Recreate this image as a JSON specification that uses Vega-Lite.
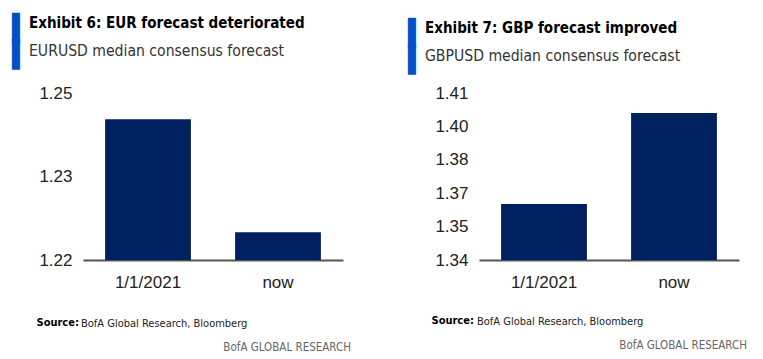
{
  "$schema": "https://vega.github.io/schema/vega-lite/v6.json",
  "background": "white",
  "padding": {"left": 12, "top": 15, "right": 5, "bottom": 0},
  "config": {"view": {"stroke": null}},
  "spacing": 57,
  "hconcat": [
    {
      "title": {"text": ["▌", "▌"], "orient": "left", "anchor": "end", "frame": "bounds", "angle": 0, "align": "left", "baseline": "top", "lineHeight": 26.5, "dy": 0, "font": "DejaVu Sans Mono", "fontSize": 26, "fontWeight": "normal", "color": "#0050C8", "offset": 1.3},
      "vconcat": [
        {
          "title": {"text": "Exhibit 6: EUR forecast deteriorated", "subtitle": "EURUSD median consensus forecast", "orient": "top", "anchor": "start", "frame": "bounds", "dx": -7, "font": "DejaVu Sans Condensed, Roboto, sans-serif", "fontSize": 15, "fontWeight": "bold", "color": "#000000", "subtitleFont": "DejaVu Sans Condensed, Roboto, sans-serif", "subtitleFontSize": 15.6, "subtitleColor": "#333333", "subtitlePadding": 13.5, "offset": 24},
          "vconcat": [
            {
              "title": {"text": "BofA GLOBAL RESEARCH", "orient": "bottom", "anchor": "end", "frame": "bounds", "dx": 8, "font": "DejaVu Sans Condensed, Roboto, sans-serif", "fontSize": 11.5, "fontWeight": "normal", "color": "#666666", "offset": 13},
              "vconcat": [
                {
                  "width": 260,
                  "height": 167,
                  "title": {"text": "BofA Global Research, Bloomberg", "orient": "bottom", "anchor": "start", "frame": "bounds", "dx": 45, "offset": -9, "font": "DejaVu Sans Condensed, Roboto, sans-serif", "fontSize": 11, "fontWeight": "normal", "color": "#222222"},
                  "data": {"values": [
                    {"date": "1/1/2021", "value": 1.2453},
                    {"date": "now", "value": 1.225}
                  ]},
                  "mark": {"type": "bar", "color": "#002060", "clip": true},
                  "encoding": {
                    "x": {"field": "date", "type": "nominal", "sort": null,
                      "scale": {"paddingInner": 0.34, "paddingOuter": 0.17},
                      "axis": {"title": "Source:", "titleFont": "DejaVu Sans Condensed, Roboto, sans-serif", "titleFontSize": 11, "titleFontWeight": "bold", "titleColor": "#000000", "titleX": -47, "titleY": 65, "titleAlign": "left", "titleBaseline": "alphabetic",
                        "labelAngle": 0, "labelFont": "Liberation Sans", "labelFontSize": 17, "labelColor": "#222222", "labelPadding": 14, "ticks": false, "domainColor": "#555555", "domainWidth": 2}},
                    "y": {"field": "value", "type": "quantitative",
                      "scale": {"domain": [1.22, 1.25], "zero": false, "nice": false},
                      "axis": {"title": null, "values": [1.22, 1.235, 1.25], "labelExpr": "format(ceil(datum.value*100-0.500001)/100,'.2f')", "labelFont": "Liberation Sans", "labelFontSize": 17, "labelColor": "#222222", "labelPadding": 11, "ticks": false, "domain": false, "grid": false}}
                  }
                }
              ]
            }
          ]
        }
      ]
    },
    {
      "title": {"text": ["▌", "▌"], "orient": "left", "anchor": "end", "frame": "bounds", "angle": 0, "align": "left", "baseline": "top", "lineHeight": 26.5, "dy": 0, "font": "DejaVu Sans Mono", "fontSize": 26, "fontWeight": "normal", "color": "#0050C8", "offset": 1.3},
      "vconcat": [
        {
          "title": {"text": "Exhibit 7: GBP forecast improved", "subtitle": "GBPUSD median consensus forecast", "orient": "top", "anchor": "start", "frame": "bounds", "dx": -6, "font": "DejaVu Sans Condensed, Roboto, sans-serif", "fontSize": 15, "fontWeight": "bold", "color": "#000000", "subtitleFont": "DejaVu Sans Condensed, Roboto, sans-serif", "subtitleFontSize": 15.6, "subtitleColor": "#333333", "subtitlePadding": 13.5, "offset": 19},
          "vconcat": [
            {
              "title": {"text": "BofA GLOBAL RESEARCH", "orient": "bottom", "anchor": "end", "frame": "bounds", "dx": 8, "font": "DejaVu Sans Condensed, Roboto, sans-serif", "fontSize": 11.5, "fontWeight": "normal", "color": "#666666", "offset": 13},
              "vconcat": [
                {
                  "width": 260,
                  "height": 167,
                  "title": {"text": "BofA Global Research, Bloomberg", "orient": "bottom", "anchor": "start", "frame": "bounds", "dx": 46, "offset": -9, "font": "DejaVu Sans Condensed, Roboto, sans-serif", "fontSize": 11, "fontWeight": "normal", "color": "#222222"},
                  "data": {"values": [
                    {"date": "1/1/2021", "value": 1.3635},
                    {"date": "now", "value": 1.4016}
                  ]},
                  "mark": {"type": "bar", "color": "#002060", "clip": true},
                  "encoding": {
                    "x": {"field": "date", "type": "nominal", "sort": null,
                      "scale": {"paddingInner": 0.34, "paddingOuter": 0.17},
                      "axis": {"title": "Source:", "titleFont": "DejaVu Sans Condensed, Roboto, sans-serif", "titleFontSize": 11, "titleFontWeight": "bold", "titleColor": "#000000", "titleX": -48, "titleY": 63, "titleAlign": "left", "titleBaseline": "alphabetic",
                        "labelAngle": 0, "labelFont": "Liberation Sans", "labelFontSize": 17, "labelColor": "#222222", "labelPadding": 14, "ticks": false, "domainColor": "#555555", "domainWidth": 2}},
                    "y": {"field": "value", "type": "quantitative",
                      "scale": {"domain": [1.34, 1.41], "zero": false, "nice": false},
                      "axis": {"title": null, "values": [1.34, 1.354, 1.368, 1.382, 1.396, 1.41], "labelExpr": "format(ceil(datum.value*100-0.500001)/100,'.2f')", "labelFont": "Liberation Sans", "labelFontSize": 17, "labelColor": "#222222", "labelPadding": 11, "ticks": false, "domain": false, "grid": false}}
                  }
                }
              ]
            }
          ]
        }
      ]
    }
  ]
}
